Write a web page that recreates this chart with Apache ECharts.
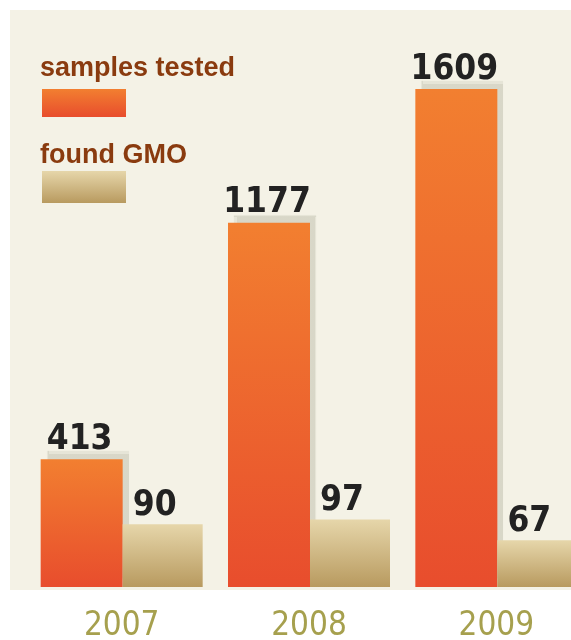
<!DOCTYPE html>
<html>
<head>
<meta charset="utf-8">
<script src="https://cdn.jsdelivr.net/npm/echarts@6/dist/echarts.min.js"></script>
<style>
html,body{margin:0;padding:0;background:#fff;overflow:hidden;}
#main{width:590px;height:640px;}
</style>
</head>
<body>
<div id="main"></div>
<script>
// data
var years = ['2007', '2008', '2009'];
var samplesTested = [413, 1177, 1609];
var foundGMO = [90, 97, 67];
var seriesNames = ['samples tested', 'found GMO'];

var myChart = echarts.init(document.getElementById('main'));

var orangeFill = new echarts.graphic.LinearGradient(0, 0, 0, 1, [
	{offset: 0, color: '#f27f30'},
	{offset: 1, color: '#e84d2d'}
]);
var tanFill = new echarts.graphic.LinearGradient(0, 0, 0, 1, [
	{offset: 0, color: '#e6d6aa'},
	{offset: 1, color: '#b89a5f'}
]);

var numFont = '"Liberation Sans Narrow", "DejaVu Sans Condensed", sans-serif';

var option = {
	backgroundColor: '#fff',
	animation: false,
	graphic: [
		// 背景面板
		{type: 'rect', z: -10, shape: {x: 10, y: 10, width: 580, height: 580}, style: {fill: '#f4f2e6'}},
		// 图例
		{type: 'text', left: 40, top: 55, style: {text: seriesNames[0], fill: '#8a3b0f', font: 'bold 27px "Liberation Sans", Arial, sans-serif'}},
		{type: 'rect', shape: {x: 42, y: 89, width: 84, height: 28}, style: {fill: orangeFill}},
		{type: 'text', left: 40, top: 142, style: {text: seriesNames[1], fill: '#8a3b0f', font: 'bold 27px "Liberation Sans", Arial, sans-serif'}},
		{type: 'rect', shape: {x: 42, y: 171, width: 84, height: 32}, style: {fill: tanFill}}
	],
	grid: {
		left: 28,
		right: 0,
		top: 30,
		bottom: 53,
		outerBoundsMode: 'none'
	},
	xAxis: {
		type: 'category',
		data: years,
		axisLine: {show: false},
		axisTick: {show: false},
		axisLabel: {
			margin: 23,
			color: '#a6a04e',
			fontFamily: numFont,
			fontSize: 33
		}
	},
	yAxis: [
		{type: 'value', min: 0, max: 1800, show: false},
		{type: 'value', min: 0, max: 800, show: false}
	],
	series: [
		{
			name: seriesNames[0],
			type: 'bar',
			yAxisIndex: 0,
			barWidth: 82,
			barGap: '0%',
			itemStyle: {
				color: orangeFill,
				shadowColor: 'rgba(175,175,155,0.4)',
				shadowOffsetX: 6,
				shadowOffsetY: -8,
				shadowBlur: 1
			},
			label: {
				show: true,
				position: 'top',
				distance: 2,
				color: '#222',
				fontFamily: numFont,
				fontWeight: 'bold',
				fontSize: 35
			},
			labelLayout: {dx: -2},
			data: samplesTested
		},
		{
			name: seriesNames[1],
			type: 'bar',
			yAxisIndex: 1,
			barWidth: 80,
			barGap: '0%',
			itemStyle: {color: tanFill},
			label: {
				show: true,
				position: 'top',
				distance: 1,
				color: '#222',
				fontFamily: numFont,
				fontWeight: 'bold',
				fontSize: 35
			},
			labelLayout: {dx: -8},
			data: foundGMO
		}
	]
};

myChart.setOption(option);
</script>
</body>
</html>
